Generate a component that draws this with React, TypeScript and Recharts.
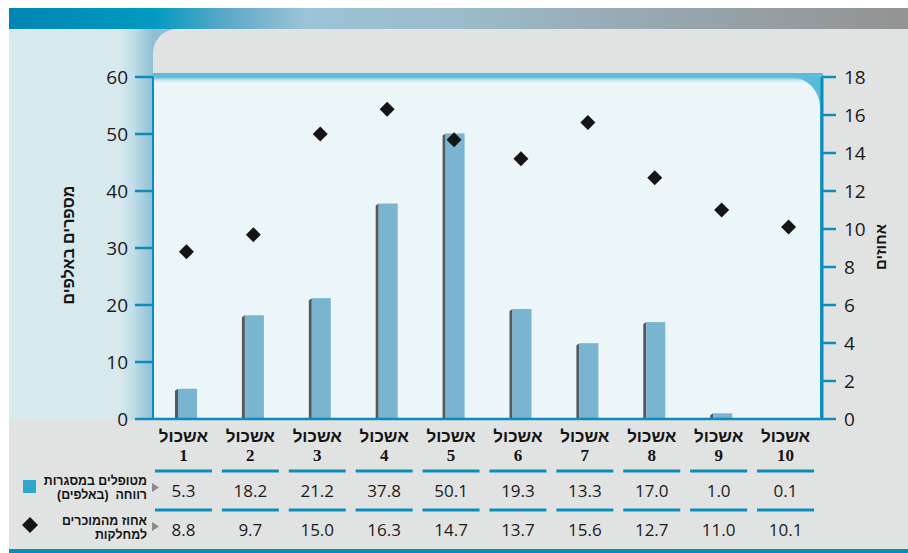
import { ComposedChart, Bar, Scatter, XAxis, YAxis } from 'recharts';

const CLUSTER_WORD = 'אשכול';
const clusters = ['1', '2', '3', '4', '5', '6', '7', '8', '9', '10'];
// מטופלים במסגרות רווחה (באלפים)
const treated = [5.3, 18.2, 21.2, 37.8, 50.1, 19.3, 13.3, 17.0, 1.0, 0.1];
// אחוז מהמוכרים למחלקות
const percentKnown = [8.8, 9.7, 15.0, 16.3, 14.7, 13.7, 15.6, 12.7, 11.0, 10.1];
const leftTicks = [0, 10, 20, 30, 40, 50, 60];
const rightTicks = [0, 2, 4, 6, 8, 10, 12, 14, 16, 18];

const data = clusters.map((c, i) => ({
  name: c,
  treated: treated[i],
  pct: percentKnown[i],
}));

const TEAL = '#0a8dbd';
const NUM_FONT = "'Open Sans', 'Liberation Sans', sans-serif";
const HEB_FONT = "'Liberation Sans', 'DejaVu Sans', sans-serif";

function BarShape(props: any) {
  const { x, y, width, height } = props;
  if (!height || height <= 0) return null;
  const side = 3;
  return (
    <g>
      <path
        d={`M${x},${y + Math.min(2, height)} L${x + side},${y} L${x + side},${y + height} L${x},${y + height} Z`}
        fill="#53595d"
      />
      <rect x={x + side} y={y} width={width - side} height={height} fill="#79b5d0" />
    </g>
  );
}

function Diamond(props: any) {
  const { cx, cy } = props;
  const r = 7.5;
  return <polygon points={`${cx},${cy - r} ${cx + r},${cy} ${cx},${cy + r} ${cx - r},${cy}`} fill="#151515" />;
}

function TableTick(props: any) {
  const { x, payload } = props;
  const i = payload.index;
  const cx = x - 3;
  return (
    <g>
      <text x={cx} y={442} textAnchor="middle" fontFamily={HEB_FONT} fontWeight="bold" fontSize={17} fill="#141414">
        {CLUSTER_WORD}
      </text>
      <text x={cx} y={461} textAnchor="middle" fontFamily="'Liberation Serif', serif" fontWeight="bold" fontSize={17} fill="#141414">
        {clusters[i]}
      </text>
      <rect x={cx - 28.5} y={469.5} width={57} height={3} fill={TEAL} />
      <text x={cx} y={497} textAnchor="middle" fontFamily={NUM_FONT} fontSize={17} fill="#1a1a1a">
        {treated[i].toFixed(1)}
      </text>
      <rect x={cx - 28.5} y={508.5} width={57} height={3} fill={TEAL} />
      <text x={cx} y={536} textAnchor="middle" fontFamily={NUM_FONT} fontSize={17} fill="#1a1a1a">
        {percentKnown[i].toFixed(1)}
      </text>
    </g>
  );
}

const abs = (s: any) => ({ position: 'absolute' as const, ...s });

const legendText = {
  width: 200,
  textAlign: 'right',
  whiteSpace: 'nowrap',
  fontFamily: HEB_FONT,
  fontWeight: 'bold',
  fontSize: 13,
  lineHeight: '14px',
  color: '#141414',
  transform: 'scaleX(0.95)',
  transformOrigin: 'right center',
};

export default function App() {
  return (
    <div style={abs({ left: 0, top: 0, width: 908, height: 553, background: '#fff', overflow: 'hidden' })}>
      {/* banner */}
      <div
        style={abs({
          left: 9, top: 8, width: 899, height: 21,
          background:
            'linear-gradient(to right, #0086b3 0%, #009ac0 16%, #5aa8c8 24%, #9bc4d6 33%, #9bbccb 50%, #97a9b2 70%, #939393 100%)',
        })}
      />
      {/* left panel */}
      <div
        style={abs({
          left: 9, top: 29, width: 170, height: 391,
          background: 'linear-gradient(to right, #d8e9ee 0px, #d8e9ee 110px, #c0dde7 124px, #8ec0d4 144px, #8ec0d4 170px)',
        })}
      />
      {/* gray panel */}
      <div style={abs({ left: 153, top: 29, width: 755, height: 391, background: '#e1e3e2', borderTopLeftRadius: 24 })} />
      <div style={abs({ left: 9, top: 420, width: 899, height: 129, background: '#e1e3e2' })} />
      <div style={abs({ left: 9, top: 549, width: 899, height: 4, background: TEAL })} />
      {/* plot area */}
      <div style={abs({ left: 153, top: 73, width: 670, height: 347, background: 'linear-gradient(#5bbcdb, #0a93c0)' })}>
        <div
          style={abs({
            left: 0, top: 4, right: 3, bottom: 0,
            background: 'linear-gradient(to bottom, #62b9d6 0px, #c9e5ee 3px, #ecf5f8 6px)',
            borderTopRightRadius: 30,
          })}
        />
      </div>
      {/* axis titles */}
      <div
        dir="rtl"
        style={abs({
          left: 69 - 80, top: 245 - 10, width: 160, height: 20, lineHeight: '20px', textAlign: 'center',
          transform: 'rotate(-90deg)', fontFamily: HEB_FONT, fontWeight: 'bold', fontSize: 16, color: '#141414',
        })}
      >
        מספרים באלפים
      </div>
      <div
        dir="rtl"
        style={abs({
          left: 881 - 40, top: 247 - 10, width: 80, height: 20, lineHeight: '20px', textAlign: 'center',
          transform: 'rotate(-90deg)', fontFamily: HEB_FONT, fontWeight: 'bold', fontSize: 15, color: '#141414',
        })}
      >
        אחוזים
      </div>
      {/* table legend */}
      <div style={abs({ left: 23, top: 480, width: 13, height: 13, background: '#2fa6cc' })} />
      <div dir="rtl" style={abs({ left: 147 - 200, top: 474, ...legendText })}>
        מטופלים במסגרות
        <br />
        רווחה&nbsp;&nbsp;(באלפים)
      </div>
      <div dir="rtl" style={abs({ left: 147 - 200, top: 514, ...legendText })}>
        אחוז מהמוכרים
        <br />
        למחלקות
      </div>
      <ComposedChart
        width={908}
        height={553}
        data={data}
        margin={{ top: 77, right: 26, bottom: 0, left: 93 }}
        style={abs({ left: 0, top: 0 })}
      >
        <XAxis
          dataKey="name"
          height={134}
          tickLine={false}
          axisLine={{ stroke: TEAL, strokeWidth: 2.5 }}
          tick={(p: any) => <TableTick {...p} />}
          interval={0}
        />
        <YAxis
          yAxisId="left"
          width={60}
          domain={[0, 60]}
          ticks={leftTicks}
          tickSize={18}
          tickMargin={7}
          axisLine={{ stroke: TEAL, strokeWidth: 2 }}
          tickLine={{ stroke: TEAL, strokeWidth: 2.5 }}
          tick={{ fill: '#1a1a1a', fontSize: 19, fontFamily: NUM_FONT }}
        />
        <YAxis
          yAxisId="right"
          orientation="right"
          width={60}
          domain={[0, 18]}
          ticks={rightTicks}
          tickSize={14}
          tickMargin={8}
          axisLine={{ stroke: TEAL, strokeWidth: 3 }}
          tickLine={{ stroke: TEAL, strokeWidth: 2.5 }}
          tick={{ fill: '#1a1a1a', fontSize: 19, fontFamily: NUM_FONT }}
        />
        <Bar yAxisId="left" dataKey="treated" barSize={22} shape={BarShape} isAnimationActive={false} />
        <Scatter yAxisId="right" dataKey="pct" shape={Diamond} isAnimationActive={false} />
      </ComposedChart>
      {/* legend markers */}
      <svg width={908} height={553} style={abs({ left: 0, top: 0, pointerEvents: 'none' })}>
        <polygon points="30,517 38,525 30,533 22,525" fill="#151515" />
        <polygon points="152,483 159,487.5 152,492" fill="#8a8a8a" />
        <polygon points="152,522 159,526.5 152,531" fill="#8a8a8a" />
      </svg>
    </div>
  );
}
